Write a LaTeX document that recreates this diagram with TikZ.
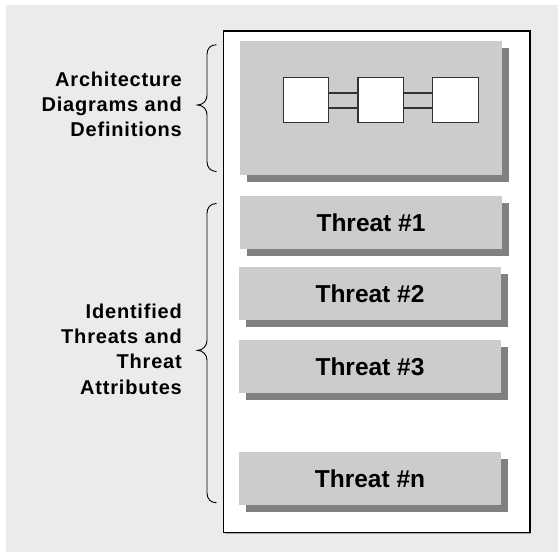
\documentclass[tikz,border=0pt]{standalone}
\usepackage{fontspec}
\setmainfont{Liberation Sans}
\newfontfamily\lblfont[LetterSpace=4]{Liberation Sans}
\newfontfamily\thrfont{Liberation Sans}
\usetikzlibrary{shadows}
\definecolor{bggray}{HTML}{EBEBEB}
\definecolor{boxgray}{HTML}{CCCCCC}
\definecolor{shadowgray}{HTML}{808080}
\definecolor{sqline}{HTML}{333333}
\tikzset{
  panelbox/.style={draw=black, line width=1.1pt, fill=white, inner sep=0pt, outer sep=0pt,
    anchor=north west, drop shadow={shadow xshift=1.3pt, shadow yshift=-1.3pt, fill=black!35, opacity=1}},
  graybox/.style={fill=boxgray, inner sep=0pt, outer sep=0pt, anchor=north west,
    minimum width=262pt, drop shadow={shadow xshift=7pt, shadow yshift=-7pt, fill=shadowgray, opacity=1},
    font={\thrfont\bfseries\fontsize{24.5}{28}\selectfont}},
  sqbox/.style={draw=sqline, line width=1.1pt, fill=white, minimum size=45.4pt, inner sep=0pt, outer sep=0pt},
  sqlink/.style={draw=sqline, line width=1.1pt},
  lbl/.style={anchor=north east, align=right, inner sep=0pt,
    font={\lblfont\bfseries\fontsize{20}{25.3}\selectfont}},
  bracestyle/.style={draw=black, line width=0.9pt}
}
\begin{document}
\begin{tikzpicture}[x=1pt,y=-1pt]
\useasboundingbox (0,0) rectangle (558,552);
\fill[bggray] (6,5) rectangle (558,552);
\node[panelbox, minimum width=306.5pt, minimum height=501.4pt] (panel) at (223.5,31) {};
\node[graybox, minimum height=134.2pt] (arch) at (240,41.2) {};
\node[graybox, minimum height=52.6pt] (t1) at (240,196) {Threat \#1};
\node[graybox, minimum height=52.7pt] (t2) at (239,267) {Threat \#2};
\node[graybox, minimum height=52.6pt] (t3) at (239,340) {Threat \#3};
\node[graybox, minimum height=52.5pt] (tn) at (239,452) {Threat \#n};
\node[sqbox] (s1) at (306,100.2) {};
\node[sqbox] (s2) at (380.7,100.2) {};
\node[sqbox] (s3) at (455.4,100.2) {};
\draw[sqlink] ([yshift=7.2pt]s1.east) -- ([yshift=7.2pt]s2.west);
\draw[sqlink] ([yshift=-7.8pt]s1.east) -- ([yshift=-7.8pt]s2.west);
\draw[sqlink] ([yshift=7.2pt]s2.east) -- ([yshift=7.2pt]s3.west);
\draw[sqlink] ([yshift=-7.8pt]s2.east) -- ([yshift=-7.8pt]s3.west);
\node[lbl] (archlbl) at (182,71.5) {Architecture\\Diagrams and\\Definitions};
\node[lbl] (thrlbl) at (182,303.5) {Identified\\Threats and\\Threat\\Attributes};
\draw[bracestyle] (216.5,44.7) .. controls (210.5,44.7) and (207,48.5) .. (207,54.5)
  -- (207,95.5) .. controls (207,100.5) and (203,105) .. (197.5,105)
  .. controls (203,105) and (207,109.5) .. (207,114.5)
  -- (207,161.5) .. controls (207,167.5) and (210.5,171.5) .. (216.5,171.5);
\draw[bracestyle] (216.5,203.5) .. controls (210.5,203.5) and (207,207.5) .. (207,213.5)
  -- (207,340.5) .. controls (207,345.5) and (203,350.4) .. (197.5,350.4)
  .. controls (203,350.4) and (207,355) .. (207,360)
  -- (207,492.8) .. controls (207,498.8) and (210.5,502.8) .. (216.5,502.8);
\end{tikzpicture}
\end{document}
